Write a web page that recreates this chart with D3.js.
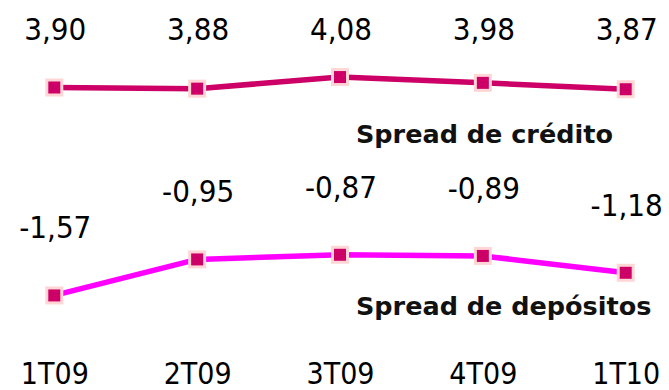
<!DOCTYPE html>
<html><head><meta charset="utf-8">
<script src="https://cdn.jsdelivr.net/npm/d3@7"></script>
<style>
html,body{margin:0;padding:0;background:#fff;}
svg{display:block;}
</style></head>
<body>
<svg id="c" width="669" height="390"></svg>
<script>
const categories = ["1T09","2T09","3T09","4T09","1T10"];
const creditValues = [3.90, 3.88, 4.08, 3.98, 3.87];
const depositValues = [-1.57, -0.95, -0.87, -0.89, -1.18];
const creditName = "Spread de crédito";
const depositName = "Spread de depósitos";

const svg = d3.select("#c");
const numFont = "'DejaVu Sans Condensed','DejaVu Sans',sans-serif";
const fmt = v => d3.format(".2f")(v).replace("\u2212", "-").replace(".", ",");

const x = d3.scalePoint().domain(categories).range([54.3, 625.7]);
const yCredit = d3.scaleLinear().domain([3.5, 4.2]).range([110.7, 70.1]);
const yDeposit = d3.scaleLinear().domain([-1.8, -0.7]).range([308.8, 244.9]);

function drawSeries(values, y, lineColor) {
  const g = svg.append("g");
  const line = d3.line().x((d,i)=>x(categories[i])).y(d=>y(d));
  g.append("path").datum(values).attr("d", line)
    .attr("fill","none").attr("stroke",lineColor).attr("stroke-width",5.5)
    .attr("stroke-linejoin","round");
  g.selectAll("rect").data(values).enter().append("rect")
    .attr("x",(d,i)=>x(categories[i])-7.5).attr("y",d=>y(d)-7.5)
    .attr("width",15).attr("height",15)
    .attr("fill","#CC0066").attr("stroke","#FFD6D6").attr("stroke-width",3);
  return g;
}

drawSeries(creditValues, yCredit, "#CC0066");
drawSeries(depositValues, yDeposit, "#FF00FF");

// credit labels: fixed row at top
svg.append("g").selectAll("text").data(creditValues).enter().append("text")
  .attr("x",(d,i)=>x(categories[i])+1).attr("y",39.5)
  .attr("text-anchor","middle").attr("font-family",numFont).attr("font-size",31)
  .attr("fill","#000").text(d=>fmt(d));

// deposit labels: above points
svg.append("g").selectAll("text").data(depositValues).enter().append("text")
  .attr("x",(d,i)=>x(categories[i])+1).attr("y",d=>yDeposit(d)-57)
  .attr("text-anchor","middle").attr("font-family",numFont).attr("font-size",31)
  .attr("fill","#000").text(d=>fmt(d));

// series names
svg.append("text").attr("x",356).attr("y",143)
  .attr("font-family","'DejaVu Sans',sans-serif").attr("font-weight","bold")
  .attr("font-size",25.5).attr("fill","#111").text(creditName);
svg.append("text").attr("x",356).attr("y",314.5)
  .attr("font-family","'DejaVu Sans',sans-serif").attr("font-weight","bold")
  .attr("font-size",25.5).attr("fill","#111").text(depositName);

// category axis
const axis = svg.append("g").attr("transform","translate(0,354)")
  .call(d3.axisBottom(x).tickSize(0).tickPadding(0));
axis.select(".domain").remove();
axis.selectAll("text").attr("font-family",numFont).attr("font-size",30)
  .attr("fill","#000").attr("dy","0").attr("y",30);
</script>
</body></html>
